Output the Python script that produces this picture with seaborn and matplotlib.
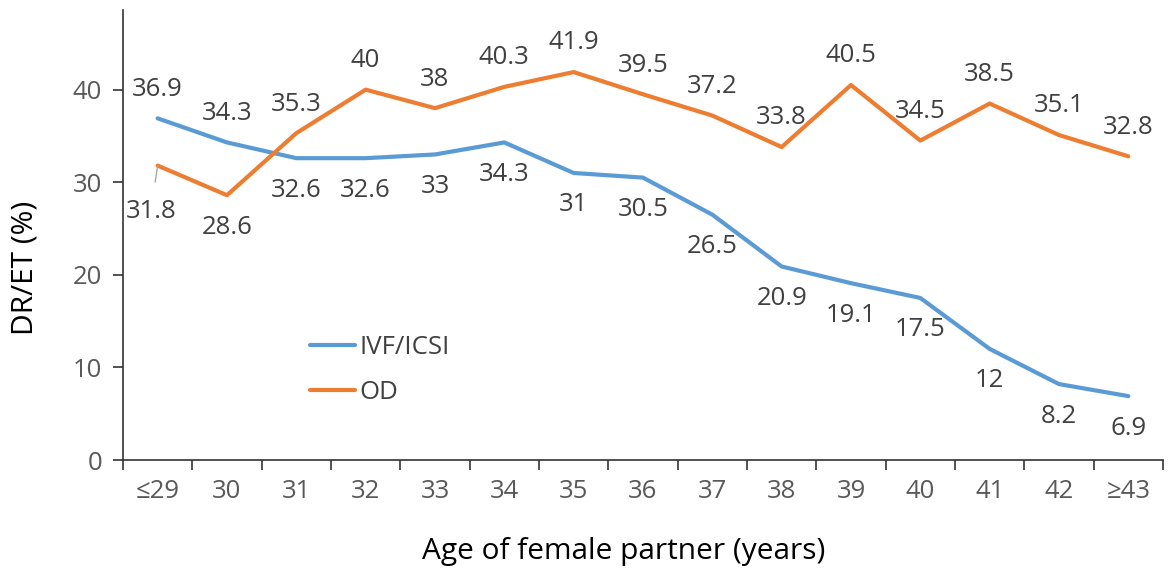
import pandas as pd
import numpy as np
import matplotlib
matplotlib.use('Agg')
import matplotlib.pyplot as plt
from matplotlib.ticker import FixedLocator
import seaborn as sns

# ── data ────────────────────────────────────────────────────────────────────
ages = ['≤29', '30', '31', '32', '33', '34', '35', '36', '37', '38', '39', '40', '41', '42', '≥43']
ivf_icsi = [36.9, 34.3, 32.6, 32.6, 33, 34.3, 31, 30.5, 26.5, 20.9, 19.1, 17.5, 12, 8.2, 6.9]
od = [31.8, 28.6, 35.3, 40, 38, 40.3, 41.9, 39.5, 37.2, 33.8, 40.5, 34.5, 38.5, 35.1, 32.8]
series_names = ['IVF/ICSI', 'OD']

df = pd.DataFrame({
    'pos': list(range(len(ages))) * 2,
    'value': ivf_icsi + od,
    'series': [series_names[0]] * len(ages) + [series_names[1]] * len(ages),
})

colors = {'IVF/ICSI': '#5B9BD5', 'OD': '#ED7D31'}

sns.set_style('white')
plt.rcParams['font.family'] = ['Open Sans', 'DejaVu Sans']

fig = plt.figure(figsize=(11.68, 5.73), dpi=100)
ax = fig.add_axes([0.1053, 0.1972, 0.8904, 0.7853])

sns.lineplot(data=df, x='pos', y='value', hue='series', hue_order=series_names,
             palette=colors, linewidth=3, ax=ax, legend=True)

# data labels: the higher series labelled above, the lower one below
label_col = '#404040'
lab_fs = 18.5
for i in range(len(ages)):
    a, b = ivf_icsi[i], od[i]
    for v, up in ((a, a > b), (b, b >= a)):
        if i == 0 and not up:
            # leader line case (Excel dragged label)
            ax.annotate(f'{v:g}', xy=(i, v), xytext=(-5, -33), textcoords='offset points',
                        ha='center', va='center', fontsize=lab_fs, color=label_col,
                        arrowprops=dict(arrowstyle='-', color='#a6a6a6', lw=1,
                                        shrinkA=10, shrinkB=0))
            continue
        ax.annotate(f'{v:g}', xy=(i, v), xytext=(0, 21 if up else -23),
                    textcoords='offset points', ha='center', va='center',
                    fontsize=lab_fs, color=label_col)

ax.set_xlim(-0.5, len(ages) - 0.5)
ax.set_ylim(0, 48.6)
ax.set_xticks(range(len(ages)))
ax.set_xticklabels(ages)
ax.xaxis.set_minor_locator(FixedLocator(np.arange(-0.5, len(ages), 1)))
ax.set_yticks([0, 10, 20, 30, 40])

spine_col = '#333333'
for s in ['top', 'right']:
    ax.spines[s].set_visible(False)
for s in ['left', 'bottom']:
    ax.spines[s].set_color(spine_col)
    ax.spines[s].set_linewidth(1.2)

ax.tick_params(axis='x', which='major', length=0, pad=14, labelsize=18.5, labelcolor='#595959')
ax.tick_params(axis='x', which='minor', length=7, width=1.2, color=spine_col, direction='out', bottom=True)
ax.tick_params(axis='y', which='major', length=7, width=1.2, color=spine_col, direction='out',
               left=True, pad=8, labelsize=18.5, labelcolor='#595959')

ax.set_xlabel('Age of female partner (years)', fontsize=21.5, color='black')
ax.set_ylabel('DR/ET (%)', fontsize=21.5, color='black')
ax.xaxis.set_label_coords(0.481, -0.204)
ax.yaxis.set_label_coords(-0.094, 0.427)
ax.xaxis.label.set_va('center')
ax.yaxis.label.set_va('center')

leg = ax.legend(loc='center left', bbox_to_anchor=(0.158, 0.2), frameon=False,
                fontsize=18.5, handlelength=1.75, handletextpad=0.15, labelspacing=0.75)
for t in leg.get_texts():
    t.set_color('#404040')

plt.savefig('out.png', dpi=100)
plt.close()
